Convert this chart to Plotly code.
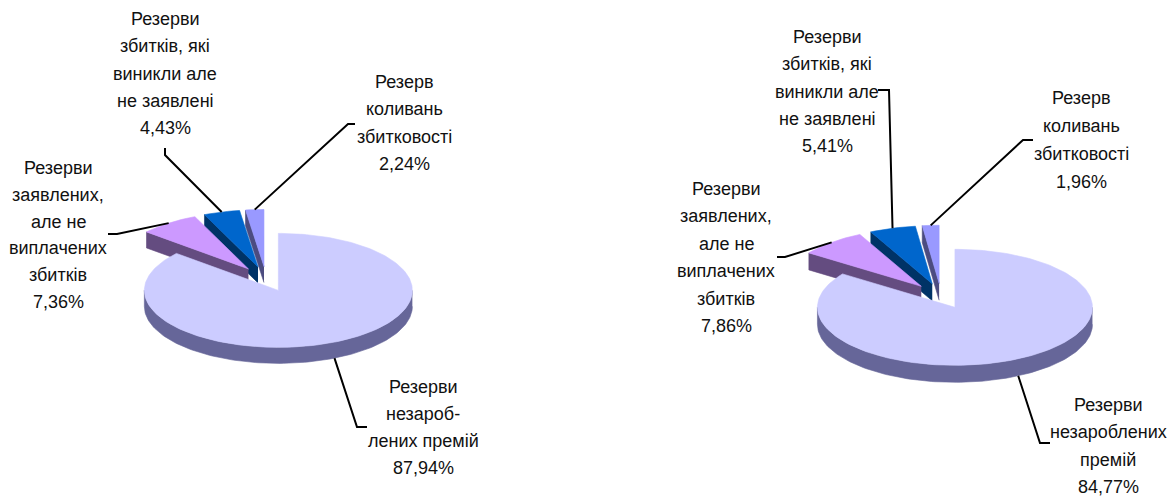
import numpy as np
import plotly.graph_objects as go

# ---------------- data ----------------
categories = [
    "Резерви незароблених премій",
    "Резерви заявлених, але не виплачених збитків",
    "Резерви збитків, які виникли але не заявлені",
    "Резерв коливань збитковості",
]
values_left = [87.94, 7.36, 4.43, 2.24]
values_right = [84.77, 7.86, 5.41, 1.96]

label_lines_left = [
    ["Резерви", "незароб-", "лених премій"],
    ["Резерви", "заявлених,", "але не", "виплачених", "збитків"],
    ["Резерви", "збитків, які", "виникли але", "не заявлені"],
    ["Резерв", "коливань", "збитковості"],
]
label_lines_right = [
    ["Резерви", "незароблених", "премій"],
    ["Резерви", "заявлених,", "але не", "виплачених", "збитків"],
    ["Резерви", "збитків, які", "виникли але", "не заявлені"],
    ["Резерв", "коливань", "збитковості"],
]

# ---------------- style ----------------
top_colors = ["#CCCCFF", "#CC99FF", "#0066CC", "#9999FF"]
side_colors = ["#666699", "#644C80", "#003366", "#4C4C80"]
W, H = 1176, 496
FONT = dict(family="Liberation Sans, Arial, sans-serif", size=18, color="#111111")

pies = [
    dict(values=values_left, lines=label_lines_left, cx=266, cy=279, a=134, b=57,
         depth=16, explode=0.22,
         label_pos=[(423, 387, 27.0), (58, 168, 26.8), (165, 19, 27.3), (404, 82, 27.3)],
         leaders=[[(367, 427), (357, 427)], [(108, 234), (117, 234)],
                  [(165, 148), (165, 155)], [(355, 124), (348, 124)]]),
    dict(values=values_right, lines=label_lines_right, cx=941, cy=296, a=137.5, b=58,
         depth=17, explode=0.22,
         label_pos=[(1108, 405, 27.3), (726, 189, 27.4), (827, 37, 27.3), (1081, 98, 27.9)],
         leaders=[[(1050, 443), (1040, 443)], [(777, 257), (785, 257)],
                  [(878, 90), (889, 90)], [(1033, 140), (1023, 140)]]),
]


def fmt_pct(v):
    return f"{v:.2f}".replace(".", ",") + "%"


fig = go.Figure()
annotations = []


def poly(xs, ys, color):
    fig.add_trace(go.Scatter(x=list(xs), y=list(ys), fill="toself", mode="lines",
                             fillcolor=color, line=dict(color=color, width=0.6),
                             hoverinfo="skip", showlegend=False))


for p in pies:
    vals = np.array(p["values"], dtype=float)
    fr = vals / vals.sum()
    ends = np.cumsum(fr) * 2 * np.pi
    starts = ends - fr * 2 * np.pi
    a, b, d, e = p["a"], p["b"], p["depth"], p["explode"]
    slices = []
    for i in range(len(vals)):
        t0, t1 = starts[i], ends[i]
        tm = (t0 + t1) / 2
        vx = p["cx"] + e * a * np.sin(tm)
        vy = p["cy"] - e * b * np.cos(tm)
        slices.append((i, t0, t1, tm, vx, vy))

    # draw back to front
    order = sorted(slices, key=lambda s: -np.cos(s[3]))
    for i, t0, t1, tm, vx, vy in order:
        def arc(ta, tb, dz=0.0):
            n = max(3, int(abs(tb - ta) / (2 * np.pi) * 240))
            t = np.linspace(ta, tb, n)
            return vx + a * np.sin(t), vy - b * np.cos(t) + dz
        # start radial face
        if np.sin(t0) < -1e-6:
            x0, y0 = vx + a * np.sin(t0), vy - b * np.cos(t0)
            poly([vx, x0, x0, vx], [vy, y0, y0 + d, vy + d], side_colors[i])
        # end radial face
        if np.sin(t1) > 1e-6:
            x1, y1 = vx + a * np.sin(t1), vy - b * np.cos(t1)
            poly([vx, x1, x1, vx], [vy, y1, y1 + d, vy + d], side_colors[i])
        # outer rim (front half)
        ra, rb = max(t0, np.pi / 2), min(t1, 3 * np.pi / 2)
        if rb > ra:
            xt, yt = arc(ra, rb)
            xb, yb = arc(ra, rb, d)
            poly(np.concatenate([xt, xb[::-1]]), np.concatenate([yt, yb[::-1]]), side_colors[i])
        # top face
        xt, yt = arc(t0, t1)
        poly(np.concatenate([[vx], xt, [vx]]), np.concatenate([[vy], yt, [vy]]), top_colors[i])

    # leaders and labels
    for i, t0, t1, tm, vx, vy in slices:
        ex = vx + a * np.sin(tm)
        ey = vy - b * np.cos(tm) + (d if np.cos(tm) < 0 else 0)
        pts = p["leaders"][i] + [(ex, ey)]
        fig.add_trace(go.Scatter(x=[q[0] for q in pts], y=[q[1] for q in pts], mode="lines",
                                 line=dict(color="black", width=2), hoverinfo="skip",
                                 showlegend=False))
        lx, ly, sp = p["label_pos"][i]
        lines = p["lines"][i] + [fmt_pct(p["values"][i])]
        for k, txt in enumerate(lines):
            annotations.append(dict(x=lx, y=ly + k * sp, text=txt, showarrow=False,
                                    xanchor="center", yanchor="middle", font=FONT,
                                    xref="x", yref="y"))

fig.update_layout(
    width=W, height=H, margin=dict(l=0, r=0, t=0, b=0),
    paper_bgcolor="white", plot_bgcolor="white",
    xaxis=dict(range=[0, W], visible=False, fixedrange=True),
    yaxis=dict(range=[H, 0], visible=False, fixedrange=True),
    annotations=annotations, hovermode=False, showlegend=False,
)
fig.write_html("out.html", config={"displayModeBar": False},
               post_script="document.body.style.margin='0';document.body.style.overflow='hidden';")
